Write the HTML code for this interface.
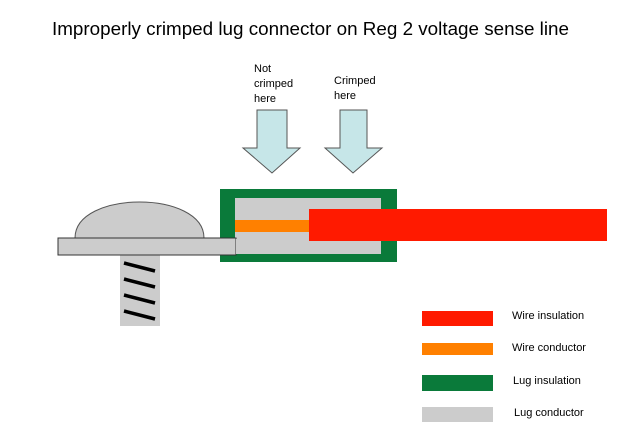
<!DOCTYPE html>
<html><head><meta charset="utf-8"><style>html,body{margin:0;padding:0;background:#fff}svg{display:block}</style></head>
<body>
<svg width="640" height="436" viewBox="0 0 640 436" xmlns="http://www.w3.org/2000/svg" font-family="Liberation Sans, Arial, sans-serif">
<rect width="640" height="436" fill="#fff"/>
<text x="52" y="35" font-size="18" textLength="517" lengthAdjust="spacingAndGlyphs" fill="#000">Improperly crimped lug connector on Reg 2 voltage sense line</text>
<!-- arrows -->
<g fill="#c6e6e8" stroke="#555" stroke-width="1">
<polygon points="257,110 287,110 287,148 300,148 272,173 243,148 257,148"/>
<polygon points="340,110 367,110 367,148 382,148 353,173 325,148 340,148"/>
</g>
<g font-size="11" fill="#000">
<text x="254" y="72">Not</text>
<text x="254" y="87">crimped</text>
<text x="254" y="102">here</text>
<text x="334" y="84">Crimped</text>
<text x="334" y="99">here</text>
</g>
<!-- screw -->
<rect x="120" y="254" width="40" height="72" fill="#cccccc"/>
<g stroke="#000" stroke-width="3.5">
<line x1="124" y1="263" x2="155" y2="271"/>
<line x1="124" y1="279" x2="155" y2="287"/>
<line x1="124" y1="295" x2="155" y2="303"/>
<line x1="124" y1="311" x2="155" y2="319"/>
</g>
<!-- dome -->
<path d="M75,238 C75,190 204,190 204,238 Z" fill="#cccccc" stroke="#555" stroke-width="1"/>
<!-- lug -->
<rect x="220" y="189" width="177" height="73" fill="#0a7a3a"/>
<rect x="235" y="198" width="146" height="56" fill="#cccccc"/>
<rect x="58" y="238" width="178" height="17" fill="#cccccc" stroke="#333" stroke-width="1"/>
<rect x="236" y="239" width="10" height="15" fill="#cccccc"/>
<rect x="235" y="220" width="75" height="12" fill="#ff8000"/>
<rect x="309" y="209" width="298" height="32" fill="#ff1a00"/>
<!-- legend -->
<rect x="422" y="311" width="71" height="15" fill="#ff1a00"/>
<rect x="422" y="343" width="71" height="12" fill="#ff8000"/>
<rect x="422" y="375" width="71" height="16" fill="#0a7a3a"/>
<rect x="422" y="407" width="71" height="15" fill="#cccccc"/>
<g font-size="11" fill="#000">
<text x="512" y="319">Wire insulation</text>
<text x="512" y="351">Wire conductor</text>
<text x="513" y="384">Lug insulation</text>
<text x="514" y="416">Lug conductor</text>
</g>
</svg>
</body></html>
